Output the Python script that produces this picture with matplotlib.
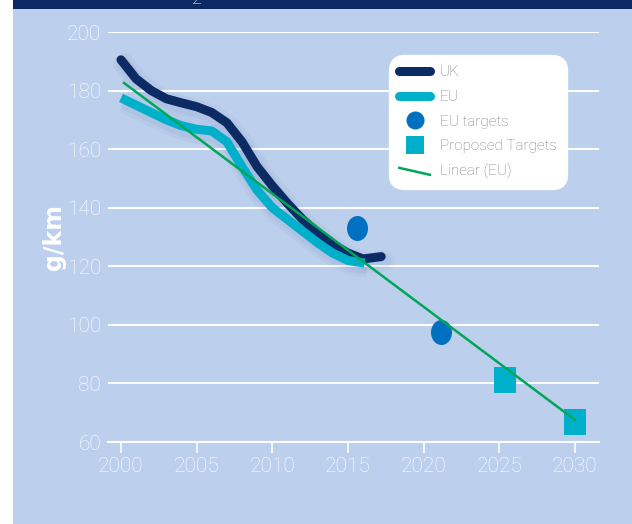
import matplotlib
matplotlib.use("Agg")
import matplotlib.pyplot as plt
import matplotlib.patheffects as pe
from matplotlib.lines import Line2D
from matplotlib.patches import Rectangle
from matplotlib.path import Path
from matplotlib.transforms import Affine2D
from matplotlib.legend_handler import HandlerBase

plt.rcParams['font.family'] = ['Roboto', 'DejaVu Sans']
plt.rcParams['font.weight'] = 'light'

# Data
uk_years = [2000, 2001, 2002, 2003, 2004, 2005, 2006, 2007, 2008,
            2009, 2010, 2011, 2012, 2013, 2014, 2015, 2016, 2017.2]
uk_vals = [190.5, 184.0, 180.0, 177.2, 175.8, 174.5, 172.5, 169.0, 162.5,
           154.0, 147.5, 141.5, 136.0, 131.5, 127.5, 124.5, 122.5, 123.3]

eu_years = [2000, 2001, 2002, 2003, 2004, 2005, 2006, 2007, 2008,
            2009, 2010, 2011, 2012, 2013, 2014, 2015, 2016.1]
eu_vals = [177.5, 175.0, 172.5, 170.0, 168.0, 166.8, 166.2, 162.5, 154.0,
           146.0, 140.0, 136.0, 132.0, 128.0, 124.5, 122.0, 121.1]

target_years = [2015.6, 2021.15]
target_vals = [133.0, 97.4]

proposed_years = [2025.4, 2030.0]
proposed_vals = [81.3, 66.9]

trend_years = [2000.2, 2030.0]
trend_vals = [182.6, 67.6]

yticks = [60, 80, 100, 120, 140, 160, 180, 200]
xticks = [2000, 2005, 2010, 2015, 2020, 2025, 2030]

# colours
bg = "#bccfec"
navy = "#0c2a63"
cyan = "#00b0ca"
blue = "#0070c0"
green = "#00a65a"

fig = plt.figure(figsize=(6.32, 5.24), dpi=100)
fig.patch.set_facecolor("white")
# light blue panel + dark band on top
fig.patches.append(Rectangle((13 / 632, 0), 1, 1, transform=fig.transFigure,
                             facecolor=bg, edgecolor="none", zorder=-10))
fig.patches.append(Rectangle((13 / 632, 1 - 9 / 524), 1, 9 / 524, transform=fig.transFigure,
                             facecolor="#0b2a63", edgecolor="none", zorder=-9))
# subscript of the cropped title above
fig.text(197 / 632, 1 - 4 / 524, "2", color="white", fontsize=13,
         ha="center", va="baseline", clip_on=False)

ax = fig.add_axes([108 / 632, 1 - 442 / 524, 491 / 632, 410 / 524])
ax.set_facecolor("none")
ax.set_xlim(1999.14, 2031.6)
ax.set_ylim(60, 200)

for s in ["top", "right", "left"]:
    ax.spines[s].set_visible(False)
ax.spines["bottom"].set_color("white")
ax.spines["bottom"].set_linewidth(1.5)

ax.set_yticks(yticks)
ax.set_xticks(xticks)
ax.grid(axis="y", color="white", linewidth=1.5)
ax.set_axisbelow(True)
ax.tick_params(axis="y", length=0, pad=5, labelsize=15, labelcolor="white")
ax.tick_params(axis="x", length=8, width=1.2, color="white", direction="out",
               pad=3, labelsize=15, labelcolor="white")

ax.set_ylabel("g/km", color="white", fontsize=17, fontweight="bold",
              family="DejaVu Sans")
ax.yaxis.set_label_coords(-0.086, 0.5)


def shadow(lw):
    return [pe.Stroke(linewidth=lw + 9, foreground="#3a5a9a", alpha=0.04, offset=(2, -3)),
            pe.Stroke(linewidth=lw + 4, foreground="#3a5a9a", alpha=0.06, offset=(2, -3)),
            pe.Normal()]


ax.plot(uk_years, uk_vals, color=navy, linewidth=6.5, solid_capstyle="round",
        solid_joinstyle="round", zorder=3, path_effects=shadow(6.5))
ax.plot(eu_years, eu_vals, color=cyan, linewidth=6.5, solid_capstyle="butt",
        solid_joinstyle="round", zorder=4, path_effects=shadow(6.5))

ellipse = Path.unit_circle().transformed(Affine2D().scale(1, 1.19))
rect = Path.unit_rectangle().transformed(Affine2D().translate(-0.5, -0.5).scale(1, 1.24))

ax.plot(target_years, target_vals, linestyle="none", marker=ellipse, markersize=18,
        color=blue, markeredgewidth=0, zorder=5, clip_on=False)
ax.plot(proposed_years, proposed_vals, linestyle="none", marker=rect, markersize=19,
        color=cyan, markeredgewidth=0, zorder=5, clip_on=False)
ax.plot(trend_years, trend_vals, color=green, linewidth=1.8, zorder=6)


class SlantHandler(HandlerBase):
    def create_artists(self, legend, orig_handle, xdescent, ydescent, width, height,
                       fontsize, trans):
        line = Line2D([-xdescent, -xdescent + width],
                      [height * 0.75 - ydescent, height * 0.1 - ydescent],
                      color=orig_handle.get_color(), linewidth=orig_handle.get_linewidth())
        line.set_transform(trans)
        return [line]


h_uk = Line2D([], [], color=navy, linewidth=6.5, solid_capstyle="round")
h_eu = Line2D([], [], color=cyan, linewidth=6.5, solid_capstyle="round")
h_tg = Line2D([], [], linestyle="none", marker="o", markersize=13, color=blue, markeredgewidth=0)
h_pr = Line2D([], [], linestyle="none", marker="s", markersize=13, color=cyan, markeredgewidth=0)
h_tr = Line2D([], [], color=green, linewidth=1.8)
leg = ax.legend([h_uk, h_eu, h_tg, h_pr, h_tr],
                ["UK", "EU", "EU targets", "Proposed Targets", "Linear (EU)"],
                loc="upper left",
                bbox_to_anchor=(394 / 632, 1 - 60 / 524), bbox_transform=fig.transFigure,
                fontsize=11, labelcolor="#7f7f7f", frameon=True, fancybox=True,
                facecolor="white", edgecolor="white", framealpha=1,
                handlelength=2.0, handletextpad=0.65, labelspacing=0.7,
                borderpad=0.35, borderaxespad=0,
                handler_map={h_tr: SlantHandler()})
leg.get_frame().set_boxstyle("round,pad=0.3,rounding_size=1.0")
leg.set_zorder(10)

fig.savefig("out.png", dpi=100, facecolor=fig.get_facecolor())
